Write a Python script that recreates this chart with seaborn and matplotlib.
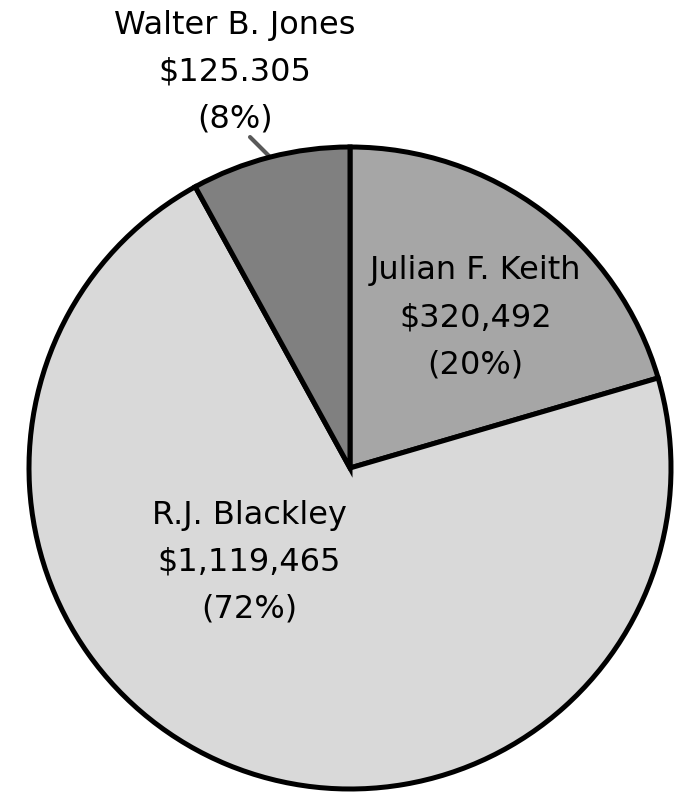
import numpy as np
import matplotlib
matplotlib.use("Agg")
import matplotlib.pyplot as plt
import seaborn as sns

# Campaign spending by candidate
candidates = ["Julian F. Keith", "R.J. Blackley", "Walter B. Jones"]
amounts = [320492, 1119465, 125305]
amount_labels = ["$320,492", "$1,119,465", "$125.305"]
fill_colors = ["#a6a6a6", "#d9d9d9", "#808080"]

sns.set_theme(style="white")
plt.rcParams["font.family"] = ["DejaVu Sans"]

W, H, DPI = 679, 792, 100
fig = plt.figure(figsize=(W / DPI, H / DPI), dpi=DPI)
ax = fig.add_axes([0, 0, 1, 1])

# pixel geometry of the pie
cx, cy, rad = 350.0, 468.0, 321.0
palette = sns.color_palette(fill_colors)

wedges, _ = ax.pie(
    amounts,
    colors=palette,
    startangle=90,
    counterclock=False,
    radius=1.0,
    wedgeprops=dict(edgecolor="black", linewidth=3.6, joinstyle="miter"),
)

ax.set_xlim(-cx / rad, (W - cx) / rad)
ax.set_ylim(-(H - cy) / rad, cy / rad)
ax.set_aspect("auto")
ax.axis("off")

total = sum(amounts)
pcts = [round(100 * a / total) for a in amounts]

# label placement: (radial distance, angle offset from wedge middle)
placement = [(0.61, -3.0), (0.43, -24.5), (1.285, 1.8)]

for w, name, amt, pct, (dist, doff) in zip(wedges, candidates, amount_labels, pcts, placement):
    mid = 0.5 * (w.theta1 + w.theta2)
    ang = np.deg2rad(mid + doff)
    x, y = dist * np.cos(ang), dist * np.sin(ang)
    ax.text(x, y, f"{name}\n{amt}\n({pct}%)", ha="center", va="center",
            fontsize=23, color="black", linespacing=1.66)

# leader line for the small slice
w = wedges[2]
mid = 0.5 * (w.theta1 + w.theta2)
a0, a1 = np.deg2rad(mid + 2.4), np.deg2rad(mid)
ax.plot([1.077 * np.cos(a0), 1.0 * np.cos(a1)],
        [1.077 * np.sin(a0), 1.0 * np.sin(a1)],
        color="#595959", linewidth=3.0, solid_capstyle="round", zorder=0.5)

fig.savefig("out.png", dpi=DPI, facecolor="white")
